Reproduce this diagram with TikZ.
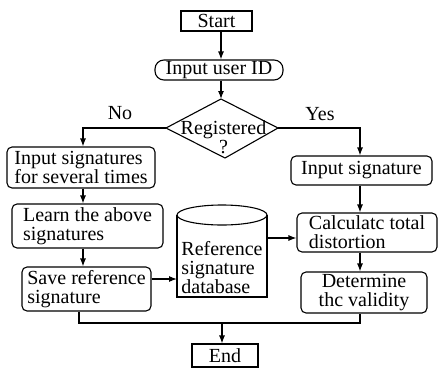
\documentclass[tikz,border=0pt]{standalone}
\usepackage{fontspec}
\setmainfont{Liberation Serif}
\usetikzlibrary{arrows.meta}
\tikzset{
  flow/.style={draw, line width=1.1pt, inner sep=0pt, font=\fontsize{20}{19}\selectfont},
  term/.style={flow},
  proc/.style={flow, rounded corners=5pt},
  lbl/.style={inner sep=0pt, font=\fontsize{20}{19}\selectfont},
  conn/.style={line width=1.1pt},
  arr/.style={conn, -{Latex[length=8pt,width=6pt]}},
}

\begin{document}
\begin{tikzpicture}[x=1pt, y=-1pt]
  \useasboundingbox (0,0) rectangle (438,369);

  % columns the connectors run along
  \coordinate (mx) at (221,0);
  \coordinate (lx) at (83,0);
  \coordinate (rx) at (360,0);

  \node[term, minimum width=71pt, minimum height=20pt] (start) at (216.5,21) {Start};
  \node[proc, rounded corners=9pt, minimum width=128pt, minimum height=20pt] (userid) at (219,70) {Input user ID};

  % decision
  \coordinate (dtop) at (221,99);
  \coordinate (dright) at (278,128);
  \coordinate (dbot) at (225,158);
  \coordinate (dleft) at (166,128);
  \draw[conn] (dtop) -- (dright) -- (dbot) -- (dleft) -- cycle;
  \node[lbl, align=center] (reg) at (223.5,137) {Registered\\?};
  \node[lbl] (no) at (120,113) {No};
  \node[lbl] (yes) at (320,114) {Yes};

  % left branch
  \node[proc, align=left, minimum width=148pt, minimum height=41pt] (insigs) at (81,167.5) {Input signatures\\for several times};
  \node[proc, align=left, minimum width=151pt, minimum height=44pt] (learn) at (87.5,226) {Learn the above\\signatures};
  \node[proc, align=left, minimum width=129pt, minimum height=44pt] (save) at (86.5,289) {Save reference\\signature};

  % database
  \draw[conn] (177,215) -- (177,297) -- (267,297) -- (267,215);
  \draw[conn] (222,215) ellipse (45pt and 10pt);
  \node[lbl, align=left] (db) at (222,268) {Reference\\signature\\database};
  \coordinate (dbin) at (177,279);
  \coordinate (dbout) at (267,238);

  % right branch
  \node[proc, minimum width=141pt, minimum height=29pt] (insig) at (361.5,170.5) {Input signature};
  \node[proc, align=left, minimum width=140pt, minimum height=39pt] (calc) at (367,232.5) {Calculatc total\\distortion};
  \node[proc, align=center, minimum width=126pt, minimum height=41pt] (valid) at (364,292.5) {Determine\\thc validity};

  \node[term, minimum width=66pt, minimum height=23pt] (end) at (225,355.5) {End};

  % connectors
  \draw[arr] (start.south -| mx) -- (userid.north -| mx);
  \draw[arr] (userid.south -| mx) -- (dtop);
  \draw[arr] (dleft) -- (dleft -| lx) -- (insigs.north -| lx);
  \draw[arr] (dright) -- (dright -| rx) -- (insig.north -| rx);
  \draw[arr] (insigs.south -| lx) -- (learn.north -| lx);
  \draw[arr] (learn.south -| lx) -- (save.north -| lx);
  \draw[arr] (save.east |- dbin) -- (dbin);
  \draw[arr] (dbout) -- (dbout -| calc.west);
  \draw[arr] (insig.south -| rx) -- (calc.north -| rx);
  \draw[arr] (calc.south -| rx) -- (valid.north -| rx);

  \coordinate (jl) at (79,323);
  \coordinate (jr) at (360,323);
  \coordinate (jm) at (222,323);
  \draw[conn] (save.south -| jl) -- (jl) -- (jr) -- (valid.south -| jr);
  \draw[arr] (jm) -- (end.north -| jm);
\end{tikzpicture}
\end{document}
